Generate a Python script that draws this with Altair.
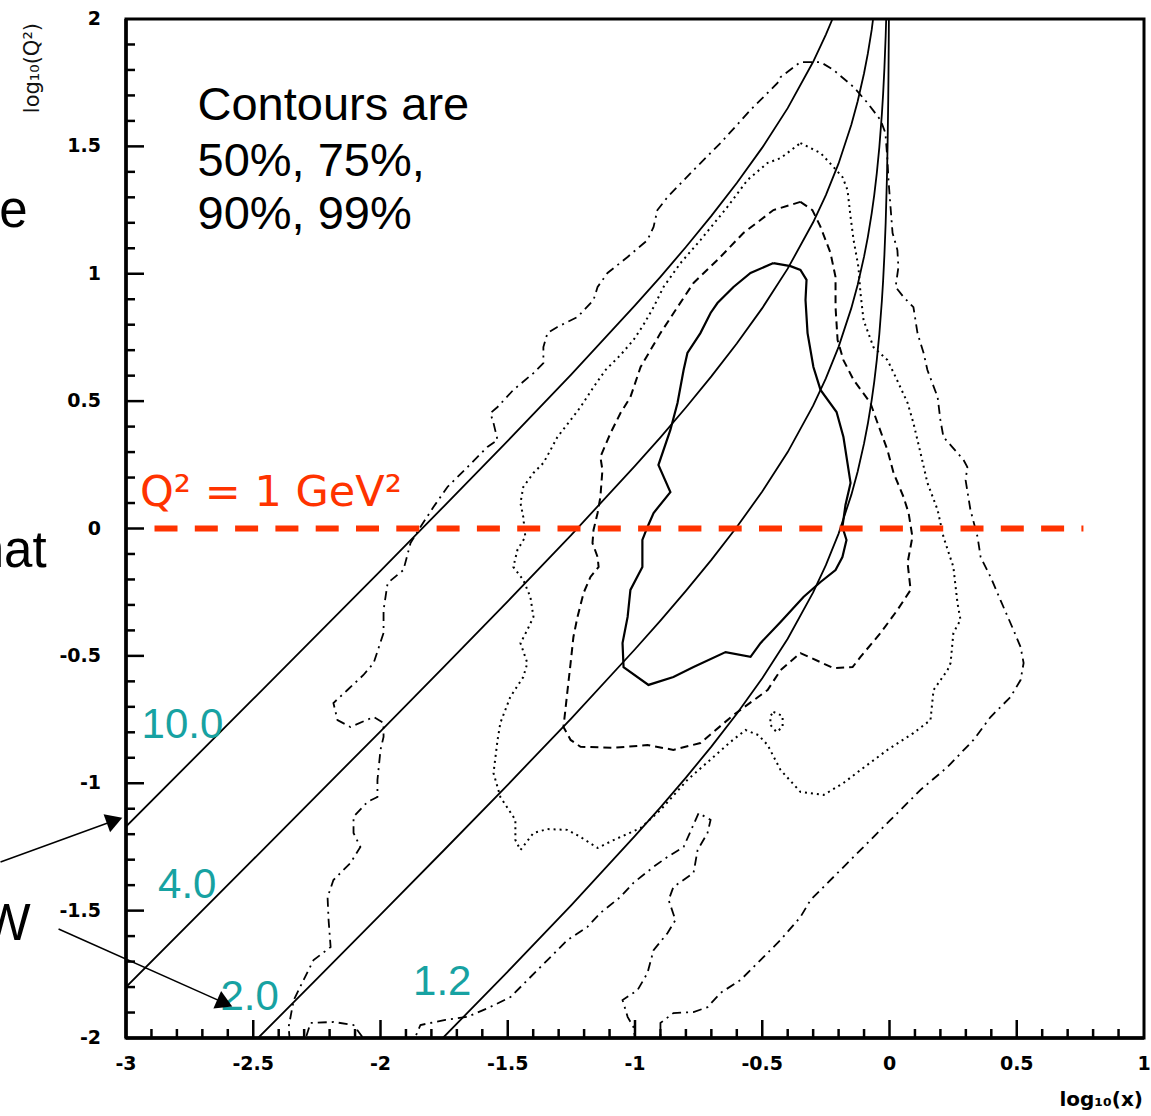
import altair as alt
import pandas as pd

# ---------------- axes ----------------
x_major = [-3, -2.5, -2, -1.5, -1, -0.5, 0, 0.5, 1]
x_labels = ["-3", "-2.5", "-2", "-1.5", "-1", "-0.5", "0", "0.5", "1"]
y_major = [-2, -1.5, -1, -0.5, 0, 0.5, 1, 1.5, 2]
y_labels = ["-2", "-1.5", "-1", "-0.5", "0", "0.5", "1", "1.5", "2"]
x_major_inner = [-2.5, -2, -1.5, -1, -0.5, 0, 0.5]
y_major_inner = [-1.5, -1, -0.5, 0, 0.5, 1, 1.5]
x_minor = [-2.9, -2.8, -2.7, -2.6, -2.4, -2.3, -2.2, -2.1, -1.9, -1.8, -1.7, -1.6,
           -1.4, -1.3, -1.2, -1.1, -0.9, -0.8, -0.7, -0.6, -0.4, -0.3, -0.2, -0.1,
           0.1, 0.2, 0.3, 0.4, 0.6, 0.7, 0.8, 0.9]
y_minor = [-1.9, -1.8, -1.7, -1.6, -1.4, -1.3, -1.2, -1.1, -0.9, -0.8, -0.7, -0.6,
           -0.4, -0.3, -0.2, -0.1, 0.1, 0.2, 0.3, 0.4, 0.6, 0.7, 0.8, 0.9,
           1.1, 1.2, 1.3, 1.4, 1.6, 1.7, 1.8, 1.9]
x_title = "log₁₀(x)"
y_title = "log₁₀(Q²)"

# ---------------- constant-W curves ----------------
w_labels = ["10.0", "4.0", "2.0", "1.2"]
w10_x = [-3.0, -2.5, -2.0, -1.75, -1.5, -1.25, -1.0, -0.9, -0.8, -0.7, -0.6, -0.5,
         -0.4, -0.3, -0.25, -0.224]
w10_y = [-1.17, -0.669, -0.166, 0.088, 0.344, 0.605, 0.876, 0.988, 1.105, 1.227,
         1.356, 1.495, 1.650, 1.832, 1.939, 2.0]
w4_x = [-3.0, -2.5, -2.0, -1.75, -1.5, -1.25, -1.0, -0.9, -0.8, -0.7, -0.6, -0.5,
        -0.4, -0.3, -0.25, -0.2, -0.15, -0.125, -0.1, -0.085, -0.07, -0.0645]
w4_y = [-1.800, -1.299, -0.796, -0.542, -0.286, -0.025, 0.246, 0.358, 0.475, 0.597,
        0.726, 0.865, 1.020, 1.202, 1.309, 1.433, 1.585, 1.677, 1.787, 1.865, 1.957, 2.0]
w2_x = [-2.481, -2.25, -2.0, -1.75, -1.5, -1.25, -1.0, -0.9, -0.8, -0.7, -0.6, -0.5,
        -0.4, -0.3, -0.25, -0.2, -0.15, -0.125, -0.1, -0.085, -0.07, -0.06, -0.05,
        -0.04, -0.03, -0.025, -0.02, -0.015, -0.013]
w2_y = [-2.0, -1.768, -1.516, -1.262, -1.006, -0.745, -0.474, -0.362, -0.245, -0.123,
        0.006, 0.145, 0.300, 0.482, 0.589, 0.713, 0.865, 0.957, 1.067, 1.145, 1.237,
        1.309, 1.394, 1.496, 1.626, 1.707, 1.807, 1.934, 2.0]
w12_x = [-1.755, -1.5, -1.25, -1.0, -0.9, -0.8, -0.7, -0.6, -0.5, -0.4, -0.3, -0.25,
         -0.2, -0.15, -0.125, -0.1, -0.085, -0.07, -0.06, -0.05, -0.04, -0.03, -0.025,
         -0.02, -0.015, -0.01, -0.0075, -0.005, -0.004, -0.003, -0.0024]
w12_y = [-2.0, -1.739, -1.478, -1.207, -1.095, -0.978, -0.856, -0.727, -0.588, -0.433,
         -0.251, -0.144, -0.020, 0.132, 0.224, 0.334, 0.412, 0.504, 0.576, 0.661, 0.763,
         0.893, 0.974, 1.074, 1.201, 1.380, 1.506, 1.683, 1.780, 1.906, 2.0]

# ---------------- contours (x, y) ----------------
c50 = [(-0.456, 1.042), (-0.389, 1.030), (-0.350, 1.015), (-0.326, 0.976), (-0.330, 0.897),
       (-0.322, 0.767), (-0.299, 0.634), (-0.271, 0.544), (-0.208, 0.457), (-0.181, 0.359),
       (-0.153, 0.179), (-0.173, 0.092), (-0.185, 0.006), (-0.169, -0.045), (-0.185, -0.112),
       (-0.212, -0.163), (-0.271, -0.210), (-0.338, -0.269), (-0.428, -0.367), (-0.507, -0.450),
       (-0.546, -0.504), (-0.644, -0.485), (-0.770, -0.544), (-0.849, -0.583), (-0.947, -0.614),
       (-1.045, -0.544), (-1.049, -0.450), (-1.029, -0.347), (-1.018, -0.241), (-0.971, -0.151),
       (-0.971, -0.045), (-0.951, 0.006), (-0.927, 0.061), (-0.861, 0.143), (-0.908, 0.249),
       (-0.861, 0.387), (-0.833, 0.493), (-0.809, 0.622), (-0.794, 0.689), (-0.743, 0.767),
       (-0.703, 0.846), (-0.676, 0.885), (-0.613, 0.948), (-0.546, 1.003), (-0.456, 1.042)]

c75 = [(-0.350, 1.282), (-0.303, 1.250), (-0.271, 1.184), (-0.232, 1.082), (-0.212, 0.987),
       (-0.212, 0.869), (-0.204, 0.740), (-0.181, 0.661), (-0.141, 0.583), (-0.075, 0.493),
       (-0.047, 0.414), (-0.008, 0.308), (0.016, 0.218), (0.055, 0.124), (0.075, 0.061),
       (0.090, -0.033), (0.071, -0.135), (0.083, -0.241), (0.031, -0.320), (-0.035, -0.410),
       (-0.114, -0.504), (-0.145, -0.544), (-0.220, -0.548), (-0.350, -0.489), (-0.428, -0.556),
       (-0.479, -0.634), (-0.613, -0.732), (-0.743, -0.842), (-0.849, -0.869), (-0.951, -0.850),
       (-1.084, -0.861), (-1.214, -0.857), (-1.253, -0.830), (-1.281, -0.779), (-1.265, -0.634),
       (-1.253, -0.528), (-1.242, -0.426), (-1.226, -0.347), (-1.202, -0.253), (-1.175, -0.190),
       (-1.143, -0.151), (-1.147, -0.112), (-1.167, -0.057), (-1.163, -0.006), (-1.147, 0.061),
       (-1.136, 0.124), (-1.128, 0.230), (-1.136, 0.281), (-1.096, 0.375), (-1.057, 0.453),
       (-1.018, 0.516), (-0.978, 0.634), (-0.900, 0.767), (-0.833, 0.869), (-0.770, 0.964),
       (-0.676, 1.054), (-0.574, 1.160), (-0.456, 1.250), (-0.350, 1.282)]

c90 = [(-0.350, 1.513), (-0.271, 1.474), (-0.220, 1.419), (-0.185, 1.380), (-0.165, 1.329),
       (-0.153, 1.223), (-0.141, 1.132), (-0.122, 1.026), (-0.114, 0.924), (-0.102, 0.818),
       (-0.063, 0.712), (-0.008, 0.661), (0.024, 0.595), (0.071, 0.493), (0.094, 0.414),
       (0.122, 0.296), (0.149, 0.179), (0.189, 0.073), (0.212, -0.033), (0.251, -0.151),
       (0.267, -0.292), (0.279, -0.359), (0.251, -0.410), (0.240, -0.528), (0.228, -0.556),
       (0.173, -0.634), (0.161, -0.752), (0.094, -0.803), (-0.008, -0.869), (-0.114, -0.948),
       (-0.181, -0.999), (-0.259, -1.046), (-0.350, -1.034), (-0.428, -0.948), (-0.479, -0.850),
       (-0.515, -0.811), (-0.566, -0.791), (-0.625, -0.838), (-0.692, -0.897), (-0.794, -0.987),
       (-0.900, -1.105), (-0.978, -1.176), (-1.084, -1.223), (-1.147, -1.254), (-1.214, -1.211),
       (-1.265, -1.183), (-1.344, -1.180), (-1.399, -1.195), (-1.450, -1.262), (-1.470, -1.223),
       (-1.470, -1.144), (-1.529, -1.054), (-1.556, -0.960), (-1.540, -0.830), (-1.529, -0.763),
       (-1.490, -0.661), (-1.439, -0.583), (-1.423, -0.528), (-1.450, -0.450), (-1.423, -0.398),
       (-1.399, -0.347), (-1.411, -0.269), (-1.439, -0.202), (-1.478, -0.151), (-1.462, -0.084),
       (-1.431, -0.033), (-1.439, 0.045), (-1.450, 0.100), (-1.439, 0.163), (-1.399, 0.218),
       (-1.360, 0.257), (-1.332, 0.308), (-1.305, 0.359), (-1.253, 0.426), (-1.214, 0.477),
       (-1.163, 0.555), (-1.116, 0.622), (-1.057, 0.681), (-1.006, 0.740), (-0.967, 0.799),
       (-0.927, 0.869), (-0.888, 0.948), (-0.821, 1.042), (-0.743, 1.132), (-0.637, 1.262),
       (-0.558, 1.368), (-0.479, 1.435), (-0.428, 1.454), (-0.350, 1.513)]

c90_island = [(-0.456, -0.720), (-0.420, -0.736), (-0.420, -0.779), (-0.444, -0.799),
              (-0.468, -0.771), (-0.468, -0.736), (-0.456, -0.720)]

c99 = [(-0.900, -2.047), (-0.900, -1.941), (-0.849, -1.902), (-0.770, -1.898), (-0.715, -1.879),
       (-0.664, -1.823), (-0.585, -1.772), (-0.507, -1.694), (-0.428, -1.615), (-0.350, -1.525),
       (-0.310, -1.458), (-0.204, -1.352), (-0.102, -1.250), (0.004, -1.144), (0.122, -1.026),
       (0.228, -0.936), (0.330, -0.830), (0.397, -0.740), (0.475, -0.662), (0.515, -0.595),
       (0.527, -0.528), (0.515, -0.465), (0.487, -0.398), (0.436, -0.281), (0.397, -0.190),
       (0.358, -0.112), (0.346, -0.033), (0.318, 0.073), (0.299, 0.190), (0.306, 0.241),
       (0.291, 0.269), (0.212, 0.359), (0.200, 0.426), (0.189, 0.516), (0.149, 0.622),
       (0.134, 0.689), (0.110, 0.767), (0.094, 0.869), (0.055, 0.909), (0.024, 0.948),
       (0.035, 1.026), (0.031, 1.093), (0.012, 1.160), (0.004, 1.262), (-0.004, 1.368),
       (-0.008, 1.446), (-0.016, 1.552), (-0.035, 1.603), (-0.086, 1.670), (-0.141, 1.733),
       (-0.220, 1.800), (-0.271, 1.831), (-0.350, 1.831), (-0.428, 1.772), (-0.440, 1.749),
       (-0.546, 1.643), (-0.664, 1.513), (-0.770, 1.407), (-0.872, 1.301), (-0.912, 1.250),
       (-0.927, 1.184), (-0.951, 1.132), (-1.029, 1.066), (-1.108, 1.003), (-1.147, 0.948),
       (-1.163, 0.897), (-1.226, 0.830), (-1.305, 0.791), (-1.344, 0.767), (-1.360, 0.712),
       (-1.360, 0.649), (-1.399, 0.610), (-1.478, 0.544), (-1.540, 0.477), (-1.568, 0.453),
       (-1.556, 0.414), (-1.540, 0.347), (-1.580, 0.320), (-1.658, 0.241), (-1.737, 0.163),
       (-1.792, 0.084), (-1.843, 0.006), (-1.882, -0.057), (-1.910, -0.163), (-1.972, -0.214),
       (-1.988, -0.320), (-1.988, -0.410), (-2.027, -0.528), (-2.067, -0.575), (-2.130, -0.634),
       (-2.185, -0.685), (-2.169, -0.752), (-2.118, -0.779), (-2.027, -0.740), (-1.988, -0.763),
       (-1.988, -0.818), (-2.000, -0.869), (-2.012, -0.987), (-2.012, -1.054), (-2.051, -1.073),
       (-2.106, -1.132), (-2.106, -1.195), (-2.079, -1.250), (-2.118, -1.313), (-2.185, -1.380),
       (-2.208, -1.447), (-2.204, -1.537), (-2.196, -1.643), (-2.263, -1.694), (-2.302, -1.772),
       (-2.341, -1.851), (-2.361, -1.957), (-2.354, -2.040), (-2.306, -2.040), (-2.275, -1.941),
       (-2.185, -1.937), (-2.106, -1.949), (-2.039, -2.040), (-1.882, -2.040), (-1.843, -1.949),
       (-1.745, -1.929), (-1.658, -1.917), (-1.568, -1.878), (-1.489, -1.839), (-1.422, -1.772),
       (-1.344, -1.694), (-1.265, -1.615), (-1.187, -1.564), (-1.136, -1.509), (-1.057, -1.446),
       (-1.006, -1.391), (-0.927, -1.328), (-0.872, -1.289), (-0.809, -1.250), (-0.750, -1.117),
       (-0.703, -1.144), (-0.715, -1.195), (-0.754, -1.262), (-0.770, -1.352), (-0.849, -1.407),
       (-0.868, -1.458), (-0.841, -1.537), (-0.872, -1.588), (-0.927, -1.655), (-0.951, -1.745),
       (-0.990, -1.812), (-1.049, -1.851), (-1.029, -1.917), (-1.006, -1.957), (-0.994, -2.047),
       (-0.900, -2.047)]

# ---------------- annotations ----------------
q2_line_x = [-2.888, 0.762]
q2_line_y = [0.0, 0.0]
q2_text = "Q² = 1 GeV²"
q2_pos = (-2.945, 0.088)

note_lines = ["Contours are", "50%, 75%,", "90%, 99%"]
note_x = [-2.719, -2.719, -2.719]
note_y = [1.604, 1.384, 1.176]

w_label_x = [-2.939, -2.874, -2.629, -1.872]
w_label_y = [-0.822, -1.450, -1.890, -1.831]

side_text = ["e", "nat", "W"]
side_x = [-3.387, -3.312, -3.375]
side_y = [1.183, -0.151, -1.615]

arrow_x0 = [-3.493, -3.265]
arrow_y0 = [-1.309, -1.572]
arrow_x1 = [-3.045, -2.612]
arrow_y1 = [-1.146, -1.863]
arrow_angle = [340, 24]

# ---------------- build ----------------
W, H = 1018, 1019
xs = alt.Scale(domain=[-3, 1], nice=False, zero=False)
ys = alt.Scale(domain=[-2, 2], nice=False, zero=False)
FONT_AX = "DejaVu Sans"
FONT_TXT = "Liberation Sans"


def X(field):
    return alt.X(field, scale=xs, axis=None)


def Y(field):
    return alt.Y(field, scale=ys, axis=None)


def path_df(xv, yv, name):
    return pd.DataFrame({"x": xv, "y": yv, "i": list(range(len(xv))), "g": name})


def pairs_df(pairs, name):
    return path_df([p[0] for p in pairs], [p[1] for p in pairs], name)


w_df = pd.concat([path_df(w10_x, w10_y, "10.0"), path_df(w4_x, w4_y, "4.0"),
                  path_df(w2_x, w2_y, "2.0"), path_df(w12_x, w12_y, "1.2")])

w_lines = alt.Chart(w_df).mark_line(color="black", strokeWidth=1.8, clip=True).encode(
    x=X("x:Q"), y=Y("y:Q"), detail="g:N", order="i:Q")


def contour(df, dash, width=2.0):
    kw = dict(color="black", strokeWidth=width, clip=True)
    if dash:
        kw["strokeDash"] = dash
    return alt.Chart(df).mark_line(**kw).encode(
        x=X("x:Q"), y=Y("y:Q"), detail="g:N", order="i:Q")


l50 = contour(pairs_df(c50, "c50"), None, 2.2)
l75 = contour(pairs_df(c75, "c75"), [8, 5])
l90 = contour(pd.concat([pairs_df(c90, "c90"), pairs_df(c90_island, "c90b")]), [2, 4])
l99 = contour(pairs_df(c99, "c99"), [9, 5, 2, 5], 1.8)

red_line = alt.Chart(path_df(q2_line_x, q2_line_y, "q2")).mark_line(
    color="#ff3300", strokeWidth=6, strokeDash=[23, 17.3]).encode(
    x=X("x:Q"), y=Y("y:Q"), order="i:Q")


def xticks(vals, length):
    return alt.Chart(pd.DataFrame({"v": vals})).mark_rule(color="black", strokeWidth=2.5).encode(
        x=X("v:Q"), y=alt.value(H), y2=alt.value(H - length))


def yticks(vals, length):
    return alt.Chart(pd.DataFrame({"v": vals})).mark_rule(color="black", strokeWidth=2.5).encode(
        y=Y("v:Q"), x=alt.value(0), x2=alt.value(length))


ticks = [xticks(x_major_inner, 18), xticks(x_minor, 9),
         yticks(y_major_inner, 18), yticks(y_minor, 9)]

# axis lines (left and bottom)
axis_lines = [
    alt.Chart(pd.DataFrame({"v": [-3]})).mark_rule(color="black", strokeWidth=3.5).encode(
        x=X("v:Q"), y=alt.value(0), y2=alt.value(H)),
    alt.Chart(pd.DataFrame({"v": [-2]})).mark_rule(color="black", strokeWidth=3.5).encode(
        y=Y("v:Q"), x=alt.value(0), x2=alt.value(W)),
]

x_lab = alt.Chart(pd.DataFrame({"v": x_major, "t": x_labels})).mark_text(
    align="center", baseline="alphabetic", font=FONT_AX, fontWeight="bold",
    fontSize=19, color="black").encode(x=X("v:Q"), y=alt.value(H + 32), text="t:N")
y_lab = alt.Chart(pd.DataFrame({"v": y_major, "t": y_labels})).mark_text(
    align="right", baseline="middle", font=FONT_AX, fontWeight="bold",
    fontSize=19, color="black").encode(y=Y("v:Q"), x=alt.value(-25), text="t:N")
x_tit = alt.Chart(pd.DataFrame({"t": [x_title]})).mark_text(
    align="right", baseline="alphabetic", font=FONT_AX, fontWeight="bold",
    fontSize=20, color="black").encode(x=alt.value(W - 1), y=alt.value(H + 68), text="t:N")
y_tit = alt.Chart(pd.DataFrame({"t": [y_title]})).mark_text(
    align="right", baseline="alphabetic", font=FONT_AX, fontSize=21, angle=270,
    color="#111111").encode(x=alt.value(-87), y=alt.value(4), text="t:N")


def text_layer(tx, ty, tt, align, font, size, color):
    df = pd.DataFrame({"x": tx, "y": ty, "t": tt})
    return alt.Chart(df).mark_text(align=align, baseline="alphabetic", font=font,
                                   fontSize=size, color=color).encode(
        x=X("x:Q"), y=Y("y:Q"), text="t:N")


t_note = text_layer(note_x, note_y, note_lines, "left", FONT_TXT, 47, "black")
t_q2 = text_layer([q2_pos[0]], [q2_pos[1]], [q2_text], "left", "DejaVu Sans", 43, "#ff3300")
t_w = text_layer(w_label_x, w_label_y, w_labels, "left", FONT_TXT, 42, "#17a2a2")
t_side = text_layer(side_x, side_y, side_text, "right", FONT_TXT, 51, "black")

arr_df = pd.DataFrame({"x0": arrow_x0, "y0": arrow_y0, "x1": arrow_x1, "y1": arrow_y1,
                       "a": arrow_angle})
arrows = alt.Chart(arr_df).mark_rule(color="black", strokeWidth=1.5).encode(
    x=X("x0:Q"), y=Y("y0:Q"), x2="x1:Q", y2="y1:Q")
heads = alt.Chart(arr_df).mark_point(shape="triangle-right", filled=True, size=360,
                                     color="black", opacity=1).encode(
    x=X("x1:Q"), y=Y("y1:Q"), angle=alt.Angle("a:Q", scale=None))

chart = alt.layer(w_lines, l50, l75, l90, l99, red_line, *ticks, *axis_lines,
                  x_lab, y_lab, x_tit, y_tit,
                  t_note, t_q2, t_w, t_side, arrows, heads).properties(
    width=W, height=H,
    padding={"left": 126, "top": 19, "right": 7, "bottom": 78},
    autosize=alt.AutoSizeParams(type="none"),
    background="white",
).configure_view(stroke="black", strokeWidth=3)

chart.save("out.html", embed_options={"renderer": "svg", "actions": False})
